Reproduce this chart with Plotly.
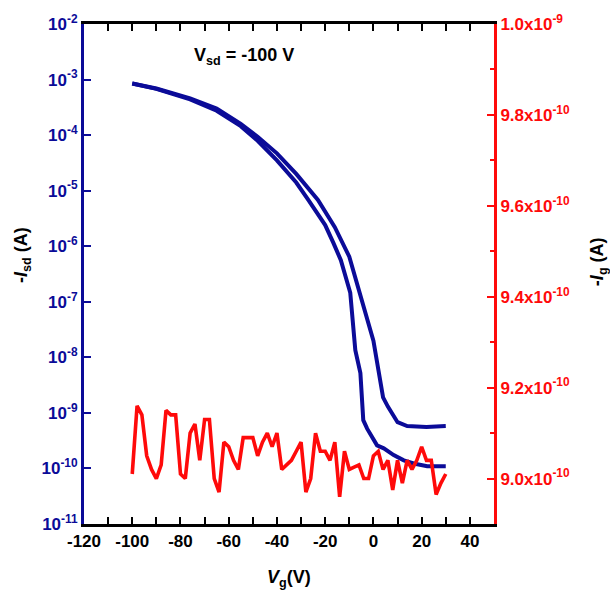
import plotly.graph_objects as go

# ---- data ----
vg_fwd = [-100, -90, -76, -65, -55, -48, -40, -32, -23, -16, -10, -5, 0, 4, 6, 10, 14, 22, 30]
isd_fwd = [8.5e-4, 6.9e-4, 4.6e-4, 3.0e-4, 1.6e-4, 9.3e-5, 4.7e-5, 2.0e-5, 6.8e-6, 2.2e-6,
           6.5e-7, 1.2e-7, 2.0e-8, 1.9e-9, 1.3e-9, 6.8e-10, 5.8e-10, 5.6e-10, 5.8e-10]

vg_rev = [-100, -90, -76, -65, -55, -48, -40, -32, -27, -20, -16.6, -13.5, -9.6, -7.5, -5.4,
          -4.2, -2.6, 1.5, 4.3, 8.4, 12.6, 16.7, 22.3, 30]
isd_rev = [8.5e-4, 6.8e-4, 4.4e-4, 2.75e-4, 1.45e-4, 7.9e-5, 3.5e-5, 1.4e-5, 6.8e-6, 2.4e-6,
           1.15e-6, 5.6e-7, 1.45e-7, 1.35e-8, 5.2e-9, 7.4e-10, 5.2e-10, 2.6e-10, 2.3e-10,
           1.74e-10, 1.4e-10, 1.23e-10, 1.1e-10, 1.1e-10]

vg_g = [-100, -98, -96, -94, -92, -90, -88, -86, -84, -82, -80, -78, -76, -74, -72, -70, -68,
        -66, -64, -62, -60, -58, -56, -54, -52, -50, -48, -46, -44, -42, -40, -38, -36, -34,
        -32, -30, -28, -26, -24, -22, -20, -18, -16, -14, -12, -10, -8, -6, -4, -2, 0, 2, 4,
        6, 8, 10, 12, 14, 16, 18, 20, 22, 24, 26, 28, 30]
ig = [9.01, 9.16, 9.14, 9.05, 9.02, 9.00, 9.03, 9.15, 9.14, 9.14, 9.01, 9.00, 9.10, 9.12,
      9.04, 9.13, 9.13, 9.00, 8.97, 9.08, 9.07, 9.04, 9.02, 9.09, 9.09, 9.09, 9.05, 9.08,
      9.10, 9.07, 9.10, 9.02, 9.03, 9.04, 9.06, 9.08, 8.97, 9.00, 9.10, 9.06, 9.06, 9.04,
      9.08, 8.96, 9.06, 9.02, 9.025, 9.03, 9.00, 9.00, 9.05, 9.06, 9.02, 9.04, 8.975, 9.04,
      8.99, 9.04, 9.02, 9.04, 9.07, 9.04, 9.04, 8.965, 8.99, 9.01]  # x 1e-10 A
ig_scale = 1e-10

x_ticks = [-120, -100, -80, -60, -40, -20, 0, 20, 40]
x_minor = [-110, -90, -70, -50, -30, -10, 10, 30]
y_exps = [-11, -10, -9, -8, -7, -6, -5, -4, -3, -2]
y2_ticks = [9.0, 9.2, 9.4, 9.6, 9.8, 10.0]
y2_text = ["9.0x10<sup>-10</sup>", "9.2x10<sup>-10</sup>", "9.4x10<sup>-10</sup>",
           "9.6x10<sup>-10</sup>", "9.8x10<sup>-10</sup>", "1.0x10<sup>-9</sup>"]
y2_minor = [8.9, 9.1, 9.3, 9.5, 9.7, 9.9]

BLUE = "#0b0b98"
RED = "#ff0a0a"
FONT = "Liberation Sans, Arial, sans-serif"

fig = go.Figure()
fig.add_trace(go.Scatter(x=vg_fwd, y=isd_fwd, mode="lines",
                         line=dict(color=BLUE, width=4), yaxis="y"))
fig.add_trace(go.Scatter(x=vg_rev, y=isd_rev, mode="lines",
                         line=dict(color=BLUE, width=4), yaxis="y"))
fig.add_trace(go.Scatter(x=vg_g, y=[v * ig_scale for v in ig], mode="lines",
                         line=dict(color=RED, width=3.6), yaxis="y2"))

fig.update_layout(
    width=610, height=590,
    margin=dict(l=84, r=116, t=24, b=66),
    paper_bgcolor="white", plot_bgcolor="white",
    showlegend=False,
    font=dict(family=FONT),
    xaxis=dict(
        range=[-120, 50], tickmode="array", tickvals=x_ticks,
        ticktext=[str(v) for v in x_ticks],
        ticks="inside", ticklen=7, tickwidth=2, tickcolor="black",
        minor=dict(tickmode="array", tickvals=x_minor, ticks="inside", ticklen=4,
                   tickwidth=2, tickcolor="black"),
        showline=True, linecolor="black", linewidth=3, mirror="allticks",
        showgrid=False, zeroline=False,
        tickfont=dict(size=17, color="black", family=FONT, weight="bold"),
    ),
    yaxis=dict(
        type="log", range=[-11, -2], tickmode="array",
        tickvals=[10 ** e for e in y_exps],
        ticktext=["10<sup>%d</sup>" % e for e in y_exps],
        ticks="inside", ticklen=7, tickwidth=2, tickcolor=BLUE,
        showline=True, linecolor=BLUE, linewidth=3, mirror=False,
        showgrid=False, zeroline=False,
        tickfont=dict(size=17, color=BLUE, family=FONT, weight="bold"),
    ),
    yaxis2=dict(
        overlaying="y", side="right",
        range=[8.9e-10, 1.0e-9], tickmode="array",
        tickvals=[v * ig_scale for v in y2_ticks], ticktext=y2_text,
        ticks="inside", ticklen=7, tickwidth=2, tickcolor=RED,
        minor=dict(tickmode="array", tickvals=[v * ig_scale for v in y2_minor],
                   ticks="inside", ticklen=4, tickwidth=2, tickcolor=RED),
        showline=True, linecolor=RED, linewidth=3,
        showgrid=False, zeroline=False,
        tickfont=dict(size=17, color=RED, family=FONT, weight="bold"),
    ),
    annotations=[
        dict(text="<b>V<sub>sd</sub> = -100 V</b>", xref="paper", yref="paper",
             x=0.264, y=0.934, xanchor="left", yanchor="middle", showarrow=False,
             font=dict(size=18, color="black", family=FONT)),
        dict(text="<b><i>V</i><sub>g</sub>(V)</b>", xref="paper", yref="paper",
             x=0.5, y=-0.108, xanchor="center", yanchor="middle", showarrow=False,
             font=dict(size=18, color="black", family=FONT)),
        dict(text="<b>-<i>I</i><sub>sd</sub> (A)</b>", xref="paper", yref="paper",
             x=-0.149, y=0.538, xanchor="center", yanchor="middle", showarrow=False,
             textangle=-90, font=dict(size=18, color="black", family=FONT)),
        dict(text="<b>-<i>I</i><sub>g</sub> (A)</b>", xref="paper", yref="paper",
             x=1.254, y=0.524, xanchor="center", yanchor="middle", showarrow=False,
             textangle=-90, font=dict(size=18, color="black", family=FONT)),
    ],
)

fig.write_html("out.html")
